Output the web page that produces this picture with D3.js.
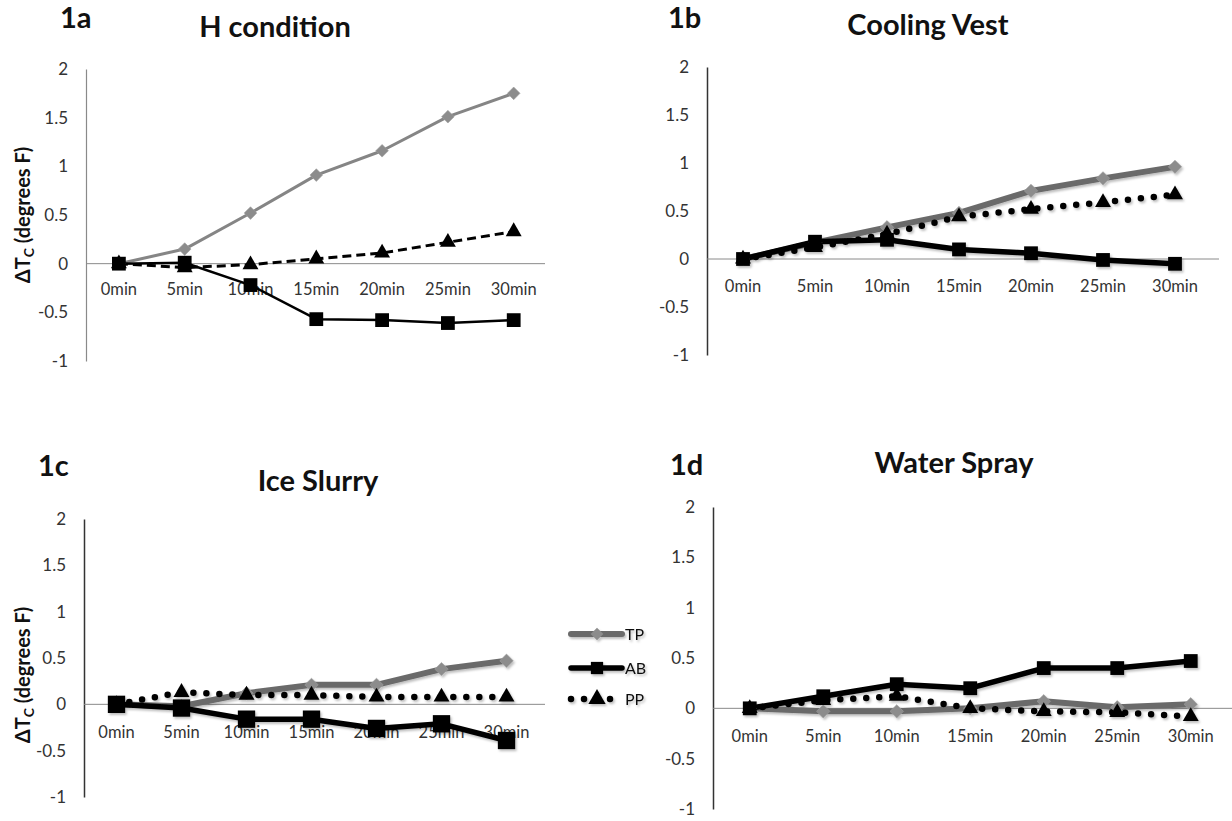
<!DOCTYPE html>
<html><head><meta charset="utf-8">
<script src="https://cdn.jsdelivr.net/npm/d3@7"></script>
<style>body{margin:0;background:#fff}svg{display:block}</style>
</head><body>
<svg id="c" width="1232" height="821"></svg>
<script>
const categories = ["0min","5min","10min","15min","20min","25min","30min"];
const yTicks = [2,1.5,1,0.5,0,-0.5,-1];
const seriesNames = ["TP","AB","PP"];
const panelIds = ["1a","1b","1c","1d"];
const panelTitles = ["H condition","Cooling Vest","Ice Slurry","Water Spray"];

const hTP = [0,0.15,0.52,0.91,1.16,1.51,1.75];
const hAB = [0,0.01,-0.22,-0.57,-0.58,-0.61,-0.58];
const hPP = [0,-0.04,-0.01,0.05,0.11,0.22,0.33];

const cvTP = [0,0.17,0.33,0.48,0.71,0.84,0.96];
const cvAB = [0,0.18,0.20,0.10,0.06,-0.01,-0.05];
const cvPP = [0,0.12,0.26,0.44,0.52,0.59,0.67];

const isTP = [0,-0.02,0.12,0.21,0.21,0.38,0.47];
const isAB = [0,-0.04,-0.16,-0.16,-0.26,-0.21,-0.39];
const isPP = [0,0.13,0.10,0.10,0.08,0.08,0.08];

const wsTP = [0,-0.03,-0.03,0,0.07,0.01,0.04];
const wsAB = [0,0.12,0.24,0.20,0.40,0.40,0.47];
const wsPP = [0,0.08,0.12,0,-0.03,-0.04,-0.08];

const panelData = [[hTP,hAB,hPP],[cvTP,cvAB,cvPP],[isTP,isAB,isPP],[wsTP,wsAB,wsPP]];

// layout (not data)
const layouts = [
  {ax:86, bw:65.8, yT:69, yB:361, xEnd:545, idX:60, idY:28, tX:275, tY:37, xlY:295, thin:true, ytitle:{x:30,y:215}},
  {ax:707, bw:72, yT:67, yB:355, xEnd:1219, idX:668, idY:28, tX:928, tY:35, xlY:292, thin:false},
  {ax:84, bw:65, yT:519, yB:797, xEnd:545, idX:38, idY:476, tX:318, tY:491, xlY:738, thin:false, ytitle:{x:30,y:675}},
  {ax:713, bw:73.5, yT:507, yB:809, xEnd:1232, idX:670, idY:475, tX:954, tY:473, xlY:742, thin:false}
];

const svg = d3.select("#c");
const defs = svg.append("defs");
const f = defs.append("filter").attr("id","sh").attr("x","-10%").attr("y","-50%").attr("width","120%").attr("height","200%");
f.append("feDropShadow").attr("dx",1.5).attr("dy",2).attr("stdDeviation",1.2).attr("flood-color","#000").attr("flood-opacity",0.25);

const font = "Lato, 'Open Sans', sans-serif";
const diamond = { draw(ctx, size) { const r = Math.sqrt(size/2); ctx.moveTo(0,-r); ctx.lineTo(r,0); ctx.lineTo(0,r); ctx.lineTo(-r,0); ctx.closePath(); } };

panelData.forEach((series, i) => {
  const L = layouts[i];
  const g = svg.append("g");
  const x = d3.scaleBand().domain(categories).range([L.ax, L.ax + L.bw*7]);
  const y = d3.scaleLinear().domain([-1,2]).range([L.yB, L.yT]);
  const cx = c => x(c) + x.bandwidth()/2;

  g.append("text").attr("x", L.idX).attr("y", L.idY).text(panelIds[i])
    .attr("font-family", font).attr("font-weight", "bold").attr("font-size", 29).attr("fill", "#111");
  g.append("text").attr("x", L.tX).attr("y", L.tY).attr("text-anchor","middle").text(panelTitles[i])
    .attr("font-family", font).attr("font-weight", "bold").attr("font-size", 29).attr("fill", "#111");

  const yAxis = d3.axisLeft(y).tickValues(yTicks).tickSize(0).tickPadding(18).tickFormat(d => String(d));
  const ya = g.append("g").attr("transform", `translate(${L.ax},0)`).call(yAxis);
  ya.select(".domain").attr("stroke", L.thin ? "#8a8a8a" : "#333").attr("stroke-width", L.thin ? 1.2 : 1.5);
  ya.selectAll("text").attr("font-family", font).attr("font-size", 17).attr("fill", "#333");

  const xa = g.append("g").attr("transform", `translate(0,${y(0)})`)
    .call(d3.axisBottom(x).tickSize(0).tickPadding(0));
  xa.select(".domain").attr("d", `M${L.ax},0H${L.xEnd}`).attr("stroke", "#8a8a8a").attr("stroke-width", 1);
  xa.selectAll("text").attr("dy", null).attr("y", L.xlY - y(0))
    .attr("font-family", font).attr("font-size", 16.5).attr("fill", "#333");

  if (L.ytitle) {
    const t = g.append("text").attr("transform", `translate(${L.ytitle.x},${L.ytitle.y}) rotate(-90)`)
      .attr("text-anchor", "middle").attr("font-family", font).attr("font-weight", "bold")
      .attr("font-size", 20).attr("fill", "#111");
    t.append("tspan").text("ΔT");
    t.append("tspan").text("C").attr("font-size", 14).attr("dy", 4);
    t.append("tspan").text("  (degrees F)").attr("dy", -4);
  }

  const line = d3.line().x((d,j) => cx(categories[j])).y(d => y(d));
  const [tp, ab, pp] = series;
  const thin = L.thin;
  const lines = g.append("g").attr("filter", thin ? null : "url(#sh)");

  lines.append("path").attr("d", line(tp)).attr("fill","none")
    .attr("stroke", thin ? "#858585" : "#6b6b6b").attr("stroke-width", thin ? 3 : 6).attr("stroke-linejoin","round");
  lines.append("path").attr("d", line(ab)).attr("fill","none")
    .attr("stroke", "#000").attr("stroke-width", thin ? 2.5 : 5.5).attr("stroke-linejoin","round");
  const ppPath = lines.append("path").attr("d", line(pp)).attr("fill","none").attr("stroke","#000");
  if (thin) ppPath.attr("stroke-width", 3).attr("stroke-dasharray", "9,5");
  else ppPath.attr("stroke-width", 6.5).attr("stroke-dasharray", "0,13").attr("stroke-linecap","round");

  const sym = (type, size) => d3.symbol().type(type).size(size)();
  lines.selectAll(".tpm").data(tp).enter().append("path")
    .attr("transform", (d,j) => `translate(${cx(categories[j])},${y(d)})`)
    .attr("d", sym(diamond, thin ? 80 : 90)).attr("fill", "#8c8c8c").attr("stroke","#a0a0a0").attr("stroke-width",0.6);
  lines.selectAll(".abm").data(ab).enter().append("path")
    .attr("transform", (d,j) => `translate(${cx(categories[j])},${y(d)})`)
    .attr("d", sym(d3.symbolSquare, i===2 ? 300 : 190)).attr("fill", "#000");
  lines.selectAll(".ppm").data(pp).enter().append("path")
    .attr("transform", (d,j) => `translate(${cx(categories[j])},${y(d)})`)
    .attr("d", sym(d3.symbolTriangle, 110)).attr("fill", "#000");
});

// legend
const lg = svg.append("g").attr("filter","url(#sh)");
const legY = [634, 668, 699];
seriesNames.forEach((n, k) => {
  const yy = legY[k];
  const p = lg.append("path").attr("d", `M571,${yy}H622`).attr("fill","none");
  if (k===0) p.attr("stroke","#6b6b6b").attr("stroke-width",6).attr("stroke-linecap","round");
  if (k===1) p.attr("stroke","#000").attr("stroke-width",5.5).attr("stroke-linecap","round");
  if (k===2) p.attr("stroke","#000").attr("stroke-width",6.5).attr("stroke-dasharray","0,13").attr("stroke-linecap","round");
  const t = k===0 ? diamond : k===1 ? d3.symbolSquare : d3.symbolTriangle;
  lg.append("path").attr("transform", `translate(597,${yy})`).attr("d", d3.symbol().type(t).size(k===0?80:k===1?150:130)())
    .attr("fill", k===0 ? "#8c8c8c" : "#000");
  lg.append("text").attr("x", 625).attr("y", yy + 6).text(n)
    .attr("font-family", font).attr("font-size", 16).attr("fill", "#111");
});
</script>
</body></html>
